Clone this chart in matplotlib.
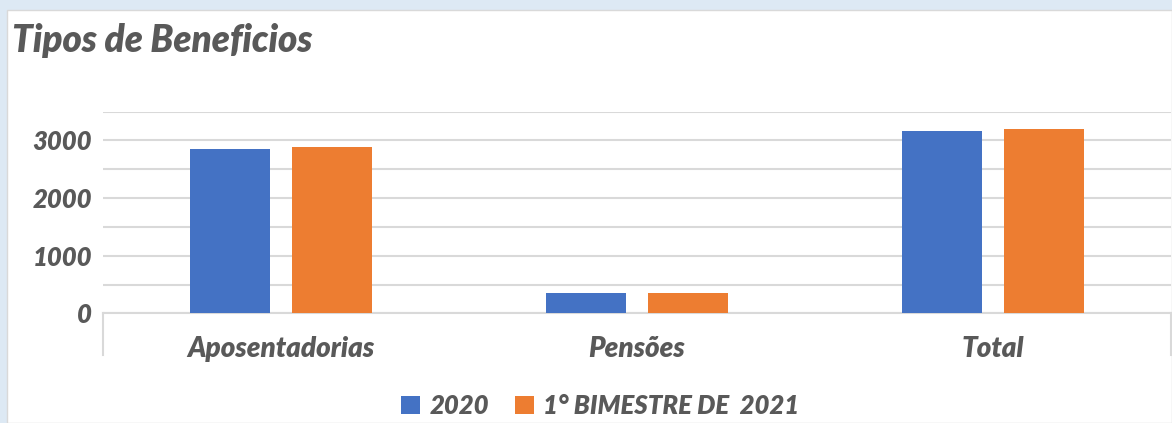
import matplotlib
matplotlib.use("Agg")
import matplotlib.pyplot as plt
from matplotlib.patches import Rectangle
import numpy as np

categories = ["Aposentadorias", "Pensões", "Total"]
series_names = ["2020", "1° BIMESTRE DE  2021"]
values_2020 = [2850, 350, 3165]
values_2021 = [2880, 350, 3200]
yticks = [0, 1000, 2000, 3000]
colors = ["#4472C4", "#ED7D31"]

W, H = 1172, 423
fig = plt.figure(figsize=(W / 100, H / 100), dpi=100)
fig.patch.set_facecolor("#dde9f4")

# white panel
panel = Rectangle((7 / W, 0), 1 - 7 / W, 1 - 10 / H, transform=fig.transFigure,
                  facecolor="white", edgecolor="#d9d9d9", linewidth=1, zorder=0)
fig.add_artist(panel)

font = ["Lato", "DejaVu Sans"]
gray = "#595959"

left, right = 103 / W, 1171 / W
bottom = (H - 313.3) / H
top = (H - 111.7) / H
ax = fig.add_axes([left, bottom, right - left, top - bottom])
ax.set_facecolor("none")

x = np.arange(len(categories))
bw = 0.225
off = 0.143
ax.bar(x - off, values_2020, bw, color=colors[0], label=series_names[0], zorder=3)
ax.bar(x + off, values_2021, bw, color=colors[1], label=series_names[1], zorder=3)

ax.set_xlim(-0.5, len(categories) - 0.5)
ax.set_ylim(0, 3500)
ax.yaxis.grid(True, color="#d9d9d9", linewidth=1.5, zorder=0)
ax.set_yticks(np.arange(0, 3501, 500))
ax.set_yticklabels([str(v) if v in yticks else "" for v in np.arange(0, 3501, 500)],
                   fontfamily=font, fontweight="heavy", fontstyle="italic",
                   fontsize=18.5, color=gray)
ax.tick_params(axis="y", length=0, pad=8)

ax.set_xticks(x)
ax.set_xticklabels(categories, fontfamily=font, fontweight="heavy", fontstyle="italic",
                   fontsize=20, color=gray)
ax.tick_params(axis="x", length=0, pad=16)

for s in ["top", "right", "left"]:
    ax.spines[s].set_visible(False)
ax.spines["bottom"].set_color("#d9d9d9")
ax.spines["bottom"].set_linewidth(1.5)

# category boundary tick marks at the ends
for xb in [-0.5, len(categories) - 0.5]:
    ax.plot([xb, xb], [0, -42 / 201.6 * 3500], color="#d9d9d9", linewidth=1.5,
            clip_on=False, zorder=2)

fig.text(12 / W, 1 - 40 / H, "Tipos de Beneficios", fontfamily=font, fontweight="heavy",
         fontstyle="italic", fontsize=26.5, color=gray, va="center", ha="left")

leg = fig.legend(loc="center", bbox_to_anchor=(600 / W, 1 - 406 / H), ncol=2,
                 frameon=False, handlelength=0.75, handleheight=0.75, handletextpad=0.35,
                 columnspacing=1.0,
                 prop={"family": font, "weight": "heavy", "style": "italic", "size": 18.5})
for t in leg.get_texts():
    t.set_color(gray)

fig.savefig("out.png", dpi=100, facecolor=fig.get_facecolor())
